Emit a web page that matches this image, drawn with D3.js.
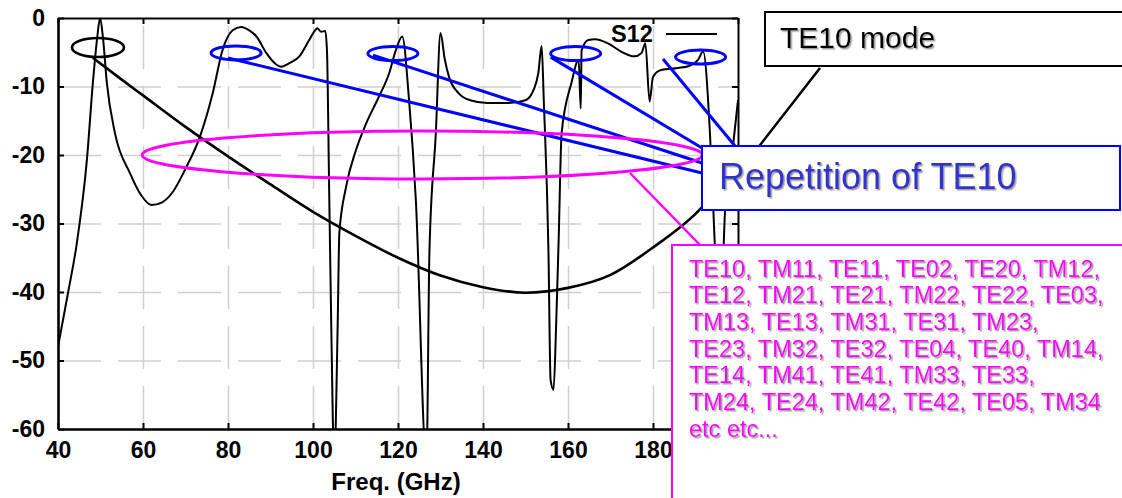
<!DOCTYPE html>
<html>
<head>
<meta charset="utf-8">
<script src="https://cdn.jsdelivr.net/npm/d3@7"></script>
<style>
body { margin: 0; background: #fff; }
svg { display: block; font-family: "Liberation Sans", Arial, sans-serif; }
.grid line { stroke: #d0d0d0; stroke-width: 1.5; stroke-dasharray: 43,17; }
.grid path { display: none; }
.axis text { font-family: "Liberation Sans", Arial, sans-serif; font-size: 23px; font-weight: 700; fill: #000; }
</style>
</head>
<body>
<div id="chart"></div>
<script>
// S12 measured curve (GHz, dB)
var s12Freq = [40, 42.4, 44.4, 46.8, 48.2, 49.2, 49.9, 50.6, 51.5, 53.4, 56.9, 59.5, 62, 64.5, 67, 70, 73.3, 76.4, 78.7, 81.1,
  83.1, 85, 86.7, 89, 91, 92.5, 93.5, 94.4, 96.8, 99.1, 100.5, 101, 101.9, 102.9, 103.3, 103.8, 104.3, 105, 105.8, 106.2,
  107.8, 110.1, 112.5, 115.5, 117.9, 119.5, 121, 122.6, 124.2, 126.7, 127.4, 128.9, 130, 131, 132, 134.3, 137, 141, 146, 150,
  151.9, 153, 153.8, 154.3, 155.4, 155.9, 156.6, 157.2, 157.8, 158.5, 160.8, 162.5, 163, 163.2, 164.8, 166.4, 169.4, 172.5, 175.6, 177.3,
  178.2, 179.2, 180, 181.9, 185.9, 188.5, 190.6, 191.8, 193.4, 194.6, 195.4, 196.2, 197, 198.8, 200];
var s12Db = [-48, -40, -33, -20.7, -9.5, -3, 0, -3, -9.5, -16.8, -22.6, -25.8, -27.3, -26.9, -25.4, -22, -17.5, -11, -4.7, -1.8,
  -1.3, -1.8, -2.7, -5.1, -6.6, -7.1, -6.9, -6.6, -5.6, -3.2, -1.8, -1.5, -2, -1.9, -5, -25, -45, -65, -45, -31.4,
  -24.6, -19.3, -15.4, -11.5, -8.1, -4.7, -2.7, -12, -26.6, -65, -34, -16.8, -2.2, -6, -8.6, -11, -12, -12.4, -12.4, -12,
  -10.5, -8.1, -4.1, -12, -34, -52.8, -54.3, -45, -32.4, -16.8, -9.5, -6.1, -13.2, -4.7, -3.2, -3.1, -3.7, -4.9, -5.6, -5.1,
  -3.7, -12.2, -8.6, -7.6, -7.3, -7, -6.1, -4.9, -16.8, -34, -45, -40, -27.6, -18.8, -12];

// TE10 mode curve
var te10Freq = [48.2, 55, 60, 70, 80, 90, 100, 110, 120, 130, 140, 150, 160, 170, 180, 190, 196];
var te10Db = [-5.8, -9, -11.3, -15.9, -20.2, -24.3, -28.3, -31.8, -35, -37.6, -39.3, -40.1, -39.4, -37.5, -33.5, -28.6, -24.5];

var xTicks = [40, 60, 80, 100, 120, 140, 160, 180];
var yTicks = [0, -10, -20, -30, -40, -50, -60];
var legendName = "S12";
var xTitle = "Freq. (GHz)";
var modeNote = "TE10 mode";
var repNote = "Repetition of TE10";
var modeList = [
  "TE10, TM11, TE11, TE02, TE20, TM12,",
  "TE12, TM21, TE21, TM22, TE22, TE03,",
  "TM13, TE13, TM31, TE31, TM23,",
  "TE23, TM32, TE32, TE04, TE40, TM14,",
  "TE14, TM41, TE41, TM33, TE33,",
  "TM24, TE24, TM42, TE42, TE05, TM34",
  "etc etc..."
];
// marked resonances (GHz, dB)
var repFreq = [81.9, 118.8, 161.8, 191.2];
var repDb = [-5.1, -5.2, -5.2, -5.7];

var margin = {top: 18, right: 384, bottom: 69, left: 58},
    width = 1122 - margin.left - margin.right,
    height = 498 - margin.top - margin.bottom;

var x = d3.scaleLinear().domain([40, 200]).range([0, width]);
var y = d3.scaleLinear().domain([-60, 0]).range([height, 0]);

var root = d3.select("#chart").append("svg")
    .attr("width", 1122)
    .attr("height", 498);

var defs = root.append("defs");
defs.append("clipPath").attr("id", "plot-clip")
  .append("rect").attr("width", width).attr("height", height);
defs.append("filter").attr("id", "shadow")
    .attr("x", "-5%").attr("y", "-20%").attr("width", "110%").attr("height", "140%")
  .append("feDropShadow")
    .attr("dx", 1.5).attr("dy", 1.5).attr("stdDeviation", 0.5)
    .attr("flood-color", "#888").attr("flood-opacity", 0.8);

var svg = root.append("g")
    .attr("transform", "translate(" + margin.left + "," + margin.top + ")");

// grid
svg.append("g").attr("class", "grid")
    .call(d3.axisLeft(y).tickValues([-10, -20, -30, -40, -50]).tickSize(-width).tickFormat(""));
svg.append("g").attr("class", "grid")
    .attr("transform", "translate(0," + height + ")")
    .call(d3.axisBottom(x).tickValues([60, 80, 100, 120, 140, 160, 180]).tickSize(-height).tickFormat(""));

// lines
var line = d3.line()
    .curve(d3.curveMonotoneX)
    .x(function(d) { return x(d[0]); })
    .y(function(d) { return y(d[1]); });

var plot = svg.append("g").attr("clip-path", "url(#plot-clip)");

plot.append("path")
    .datum(d3.zip(te10Freq, te10Db))
    .attr("fill", "none")
    .attr("stroke", "#000")
    .attr("stroke-width", 2.6)
    .attr("d", line);

plot.append("path")
    .datum(d3.zip(s12Freq, s12Db))
    .attr("fill", "none")
    .attr("stroke", "#000")
    .attr("stroke-width", 2)
    .attr("stroke-linejoin", "round")
    .attr("d", line);

// frame (top / right) with inward ticks
svg.append("g")
    .call(d3.axisTop(x).tickValues(xTicks.concat([200])).tickSize(-6).tickSizeOuter(0).tickFormat(""))
    .call(function(g) { g.selectAll("path, line").attr("stroke-width", 2); });
svg.append("g")
    .attr("transform", "translate(" + width + ",0)")
    .call(d3.axisRight(y).tickValues(yTicks).tickSize(-6).tickSizeOuter(0).tickFormat(""))
    .call(function(g) { g.selectAll("path, line").attr("stroke-width", 2); });

// axes
var label = function(d) { return String(d); };
var xAxis = svg.append("g")
    .attr("class", "axis")
    .attr("transform", "translate(0," + height + ")")
    .call(d3.axisBottom(x).tickValues(xTicks).tickFormat(label).tickSize(-6).tickSizeOuter(0).tickPadding(13));
var yAxis = svg.append("g")
    .attr("class", "axis")
    .call(d3.axisLeft(y).tickValues(yTicks).tickFormat(label).tickSize(-6).tickSizeOuter(0).tickPadding(13));

[xAxis, yAxis].forEach(function(g) {
  g.attr("font-family", null).attr("font-size", null);
  g.select(".domain").attr("stroke-width", 2.6);
  g.selectAll(".tick line").attr("stroke-width", 2);
});

svg.append("text")
    .attr("x", x(120) - 2)
    .attr("y", height + 61)
    .attr("text-anchor", "middle")
    .style("font-size", "24px")
    .style("font-weight", "bold")
    .text(xTitle);

// legend
svg.append("text")
    .attr("x", 553)
    .attr("y", 24)
    .style("font-size", "23.5px")
    .style("font-weight", "bold")
    .text(legendName);
svg.append("line")
    .attr("x1", 608).attr("x2", 659)
    .attr("y1", 16).attr("y2", 16)
    .attr("stroke", "#000").attr("stroke-width", 2);

// annotations (page coordinates)
var ann = root.append("g");
function px(f) { return margin.left + x(f); }
function py(v) { return margin.top + y(v); }

// links to Repetition box
var links = [
  [px(repFreq[0]) - 8, py(repDb[0]) + 5, 702, 173],
  [px(repFreq[1]) - 20, py(repDb[1]) + 1.5, 702, 163],
  [px(repFreq[2]) - 25, py(repDb[2]) + 3.5, 702, 148],
  [663, 59, 735, 146]
];
ann.selectAll(".link").data(links).enter().append("line")
    .attr("x1", function(d) { return d[0]; })
    .attr("y1", function(d) { return d[1]; })
    .attr("x2", function(d) { return d[2]; })
    .attr("y2", function(d) { return d[3]; })
    .attr("stroke", "#0000ff")
    .attr("stroke-width", 3);

ann.selectAll(".rep").data(d3.range(repFreq.length)).enter().append("ellipse")
    .attr("cx", function(i) { return px(repFreq[i]); })
    .attr("cy", function(i) { return py(repDb[i]); })
    .attr("rx", 25)
    .attr("ry", 7)
    .attr("fill", "none")
    .attr("stroke", "#0000ff")
    .attr("stroke-width", 3);

// TE10 start marker
ann.append("ellipse")
    .attr("cx", px(49.4)).attr("cy", py(-4.3))
    .attr("rx", 26).attr("ry", 9.5)
    .attr("fill", "none").attr("stroke", "#000").attr("stroke-width", 2.6);

// higher-order modes
ann.append("ellipse")
    .attr("cx", (px(59.8) + px(191.6)) / 2).attr("cy", py(-20))
    .attr("rx", (px(191.6) - px(59.8)) / 2).attr("ry", 24)
    .attr("fill", "none").attr("stroke", "#ff00ff").attr("stroke-width", 3);
ann.append("line")
    .attr("x1", 630).attr("y1", 173).attr("x2", 702).attr("y2", 247)
    .attr("stroke", "#ff00ff").attr("stroke-width", 2.5);

// TE10 mode pointer
ann.append("line")
    .attr("x1", 820).attr("y1", 68).attr("x2", 711).attr("y2", 208)
    .attr("stroke", "#000").attr("stroke-width", 2.5);

// boxes
ann.append("rect")
    .attr("x", 765).attr("y", 12).attr("width", 400).attr("height", 54)
    .attr("fill", "#fff").attr("stroke", "#000").attr("stroke-width", 2);
ann.append("text")
    .attr("x", 780).attr("y", 48)
    .attr("filter", "url(#shadow)")
    .style("font-size", "30px")
    .text(modeNote);

ann.append("rect")
    .attr("x", 702).attr("y", 146).attr("width", 418).attr("height", 64)
    .attr("fill", "#fff").attr("stroke", "#0000ff").attr("stroke-width", 2);
ann.append("text")
    .attr("x", 719).attr("y", 189)
    .attr("fill", "#3333cc")
    .attr("filter", "url(#shadow)")
    .style("font-size", "36px")
    .text(repNote);

ann.append("rect")
    .attr("x", 672).attr("y", 245).attr("width", 500).attr("height", 300)
    .attr("fill", "#fff").attr("stroke", "#ff00ff").attr("stroke-width", 2);
ann.append("g").attr("filter", "url(#shadow)")
  .selectAll("text").data(modeList).enter().append("text")
    .attr("x", 689)
    .attr("y", function(d, i) { return 276.5 + i * 26.7; })
    .attr("fill", "#ff00ff")
    .style("font-size", "23.5px")
    .text(function(d) { return d; });
</script>
</body>
</html>
